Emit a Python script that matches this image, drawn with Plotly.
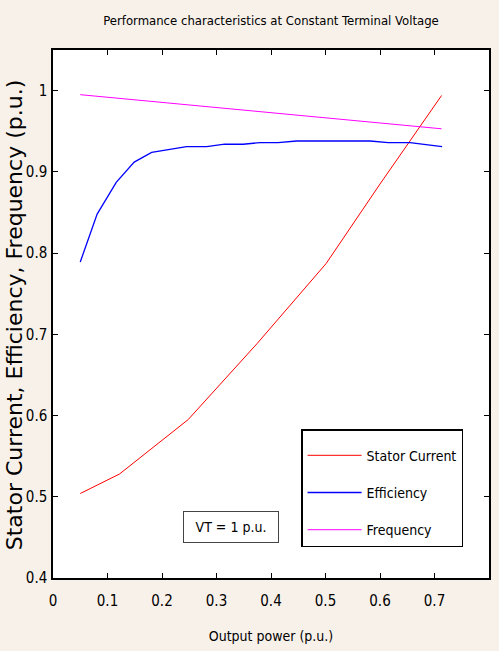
import plotly.graph_objects as go

# ---- data ----
stator_x = [0.05, 0.122, 0.248, 0.375, 0.501, 0.6, 0.713]
stator_y = [0.504, 0.528, 0.595, 0.689, 0.787, 0.885, 0.994]

eff_x = [0.05, 0.081, 0.116, 0.149, 0.181, 0.215, 0.245, 0.282, 0.315, 0.349,
         0.380, 0.413, 0.447, 0.582, 0.615, 0.655, 0.714]
eff_y = [0.789, 0.848, 0.887, 0.912, 0.924, 0.928, 0.931, 0.931, 0.934, 0.934,
         0.936, 0.936, 0.938, 0.938, 0.936, 0.936, 0.931]

freq_x = [0.05, 0.713]
freq_y = [0.995, 0.953]

x_ticks = [0, 0.1, 0.2, 0.3, 0.4, 0.5, 0.6, 0.7, 0.8]
y_ticks = [0.4, 0.5, 0.6, 0.7, 0.8, 0.9, 1.0]

NARROW = "DejaVu Sans Condensed, Liberation Sans, Arial, sans-serif"

fig = go.Figure()
fig.add_trace(go.Scatter(x=stator_x, y=stator_y, mode="lines", name="Stator Current",
                         legendgroup="a", line=dict(color="#ff0000", width=1)))
fig.add_trace(go.Scatter(x=eff_x, y=eff_y, mode="lines", name="Efficiency",
                         legendgroup="b", line=dict(color="#0000ff", width=1.3)))
fig.add_trace(go.Scatter(x=freq_x, y=freq_y, mode="lines", name="Frequency",
                         legendgroup="c", line=dict(color="#ff00ff", width=1)))

axis_common = dict(showline=True, linecolor="black", linewidth=1.5, mirror="ticks",
                   ticks="inside", ticklen=5, tickcolor="black", tickwidth=1,
                   showgrid=False, zeroline=False, automargin=False,
                   tickfont=dict(family=NARROW, size=15, color="black"))

fig.update_xaxes(range=[0, 0.8], tickvals=x_ticks, ticktext=[f"{v:g}" for v in x_ticks],
                 ticklabelstandoff=8,
                 title=dict(text="Output power (p.u.)",
                            font=dict(family=NARROW, size=14, color="black"), standoff=22),
                 **axis_common)
fig.update_yaxes(range=[0.4, 1.05], tickvals=y_ticks, ticktext=[f"{v:g}" for v in y_ticks],
                 ticklabelstandoff=1,
                 **axis_common)

# y-axis title placed as a rotated annotation to match the reference position
fig.add_annotation(x=-0.089, y=0.498, xref="paper", yref="paper",
                   text="Stator Current, Efficiency, Frequency (p.u.)",
                   textangle=-90, showarrow=False, xanchor="center", yanchor="middle",
                   font=dict(family="DejaVu Sans, Arial", size=22, color="black"))

fig.add_annotation(x=0.327, y=0.463, xref="x", yref="y", text="VT = 1 p.u.",
                   showarrow=False, width=92, height=28,
                   font=dict(family=NARROW, size=14, color="black"),
                   bordercolor="#444444", borderwidth=1, bgcolor="white")

fig.update_layout(
    width=499, height=651,
    margin=dict(l=53, r=10, t=50, b=73),
    paper_bgcolor="#f8f1ea", plot_bgcolor="white",
    title=dict(text="Performance characteristics at Constant Terminal Voltage",
               x=0.5, xref="paper", xanchor="center", y=1 - 20 / 651, yanchor="middle",
               font=dict(family=NARROW, size=13, color="black")),
    legend=dict(x=0.569, y=0.282, xanchor="left", yanchor="top",
                bgcolor="white", bordercolor="black", borderwidth=1.5,
                font=dict(family=NARROW, size=14, color="black"),
                title=dict(text="&nbsp;", font=dict(size=7)),
                itemwidth=54,
                tracegroupgap=16, traceorder="grouped"),
    showlegend=True,
)

fig.write_html("out.html")
